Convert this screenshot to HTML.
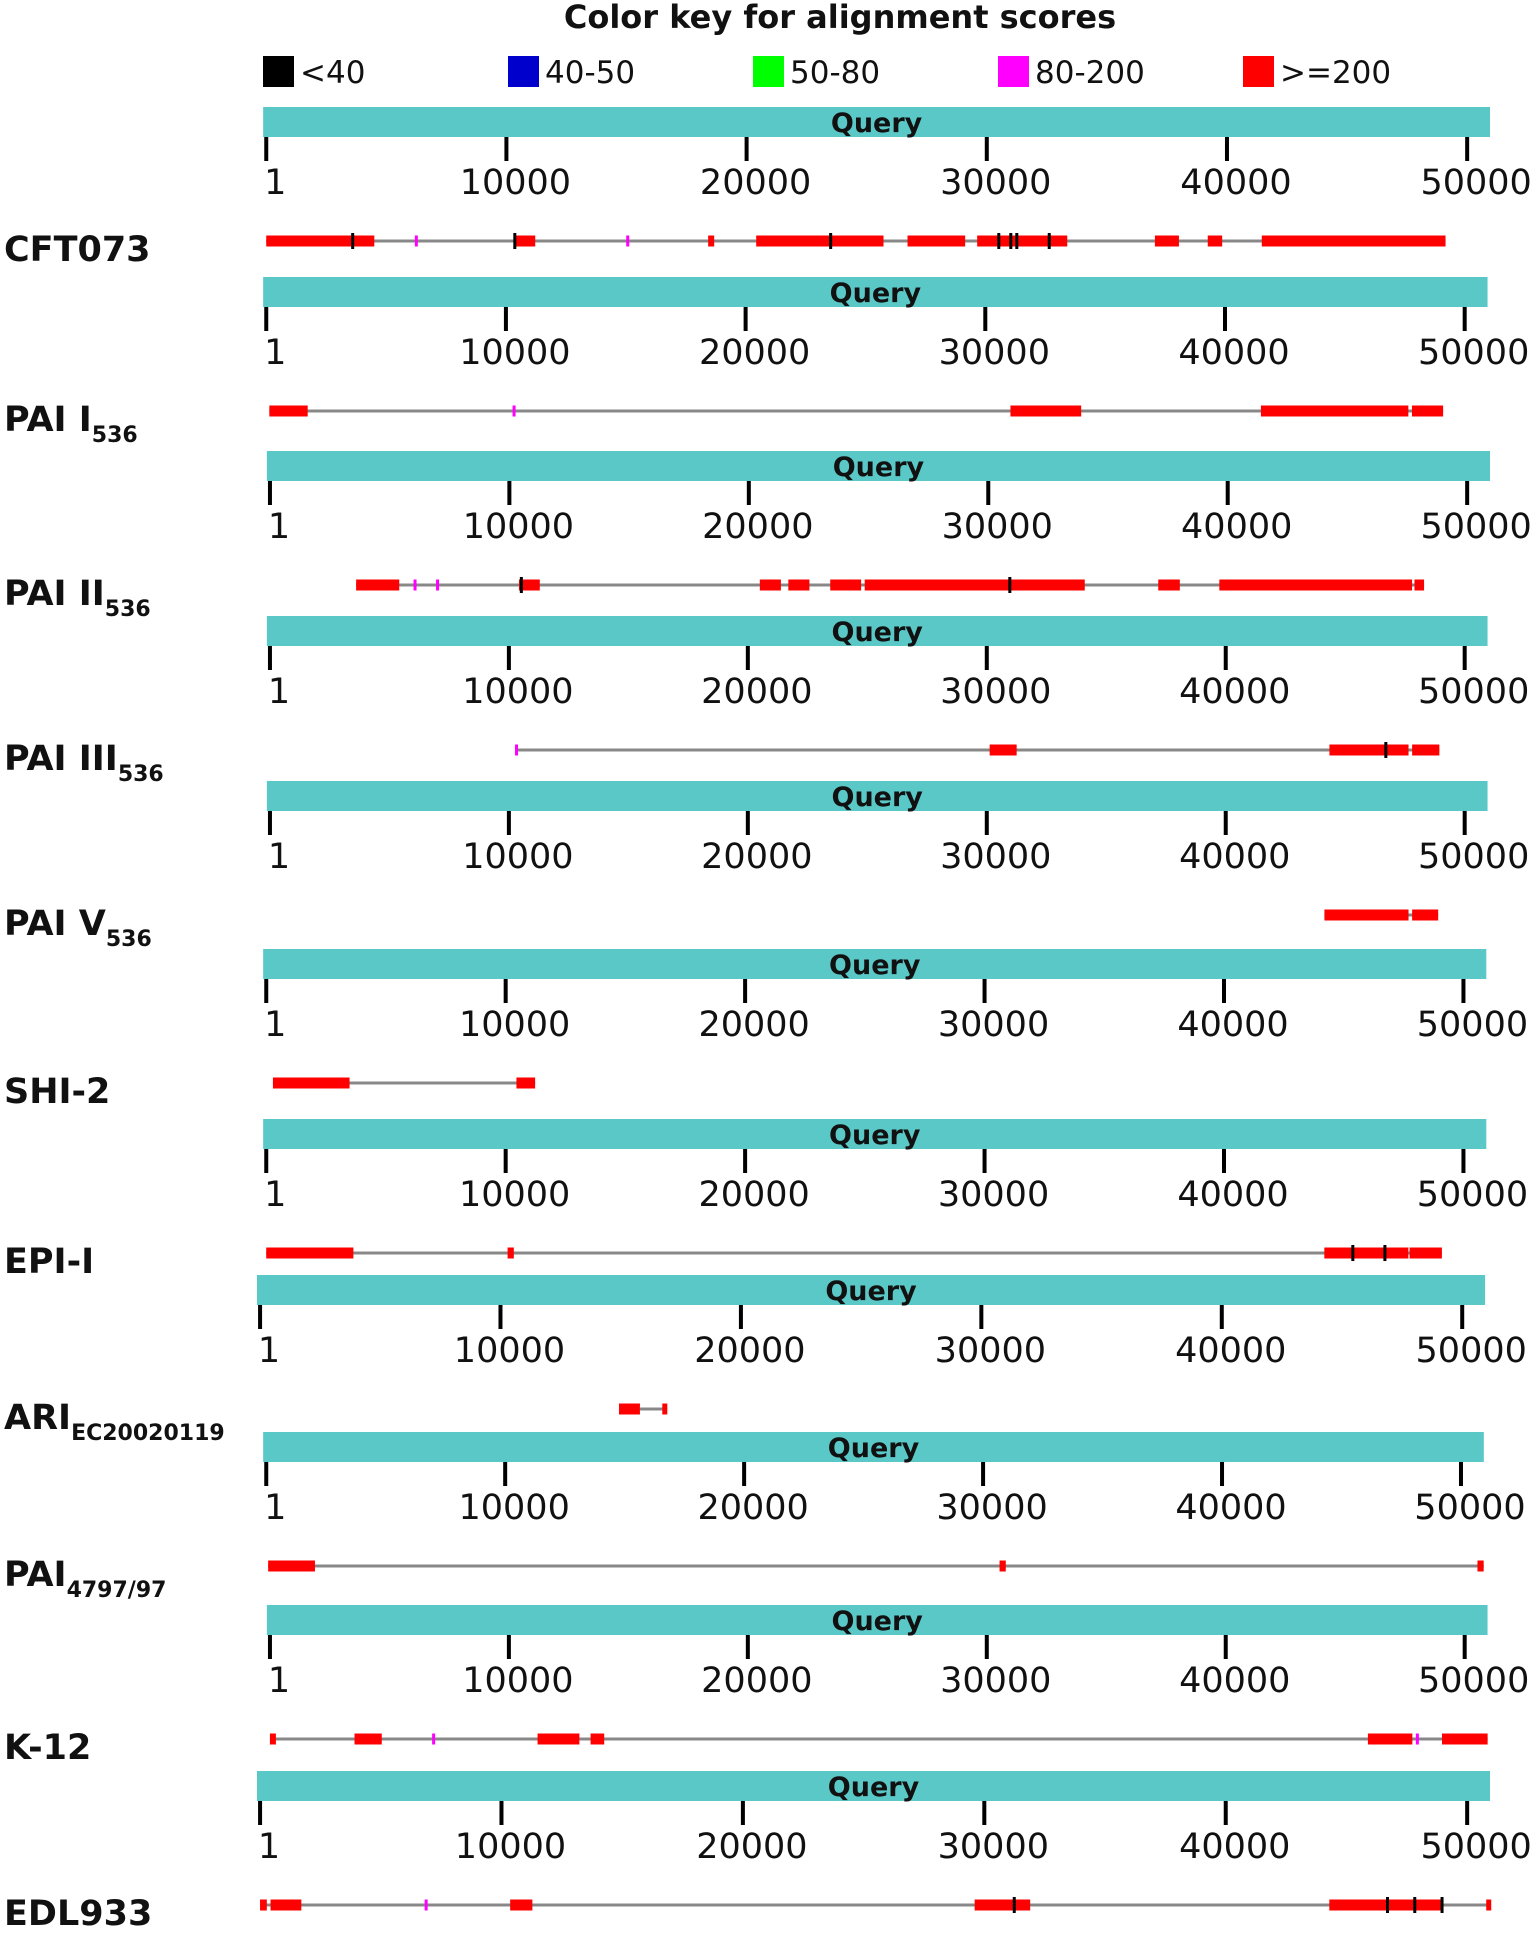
<!DOCTYPE html>
<html><head><meta charset="utf-8">
<style>
html,body{margin:0;padding:0;background:#fff;}
svg{display:block;font-family:"DejaVu Sans","Liberation Sans",sans-serif;}
</style></head>
<body>
<svg id="chart" width="1536" height="1933" viewBox="0 0 1536 1933" xmlns="http://www.w3.org/2000/svg">
<text x="840" y="28" font-size="32" font-weight="bold" text-anchor="middle" fill="#111">Color key for alignment scores</text>
<g id="legend"></g>
<g id="blocks"></g>
</svg>
<script>
const NS = "http://www.w3.org/2000/svg";
const legendLabels = ["<40","40-50","50-80","80-200",">=200"];
const legendColors = ["#000000","#0000cc","#00ff00","#ff00ff","#ff0000"];
const tickValues = [1,10000,20000,30000,40000,50000];
const tickLabels = ["1","10000","20000","30000","40000","50000"];
const subjectNames = ["CFT073","PAI I","PAI II","PAI III","PAI V","SHI-2","EPI-I","ARI","PAI","K-12","EDL933"];
const subjectSubs = ["","536","536","536","536","","","EC20020119","4797/97","",""];
const queryCenters = [122,292,466,631,796,964,1134,1290,1447,1620,1786];
const redCFT073 = [[0,4500],[10400,11200],[18400,18650],[20400,25700],[26700,29100],[29600,33350],[37000,38000],[39200,39800],[41450,49100]];
const redPAI1 = [[130,1730],[31050,34000],[41500,47650],[47800,49100]];
const redPAI2 = [[3600,5400],[10400,11270],[20460,21340],[21650,22530],[23400,24690],[24840,34030],[37100,38000],[39650,47700],[47800,48200]];
const redPAI3 = [[30120,31250],[44340,47650],[47800,48940]];
const redPAI5 = [[44130,47650],[47800,48890]];
const redSHI2 = [[280,3480],[10450,11230]];
const redEPI = [[0,3640],[10080,10340],[44190,47700],[47750,49100]];
const redARI = [[14930,15800],[16730,16930]];
const redPAI4797 = [[80,2040],[30690,30950],[50690,50950]];
const redK12 = [[0,250],[3540,4680],[11200,12950],[13420,13990],[45950,47810],[49050,50960]];
const redEDL = [[0,280],[435,1710],[10360,11280],[29600,31900],[44290,49000],[50790,50940]];
const redSpans = [redCFT073,redPAI1,redPAI2,redPAI3,redPAI5,redSHI2,redEPI,redARI,redPAI4797,redK12,redEDL];
const blackHits = [[3600,10350,23500,30500,31000,31250,32600],[],[10500,30900],[46700],[],[],[45380,46720],[],[],[],[31240,46700,47830,48960]];
const magentaHits = [[6250,15050],[10340],[6060,7000],[10320],[],[],[],[],[],[6850,48020],[6880]];
const lineExtent = [[0,49100],[130,49100],[3600,48200],[10320,48940],[44130,48890],[280,11230],[0,49100],[15800,16930],[80,50950],[0,50960],[0,50940]];
</script>
<script>
const blockLeft = [213,213,216,216,216,213,213,208,213,216,208];
const blockRight = [1206,1204,1206,1204,1204,1203,1203,1202,1201,1204,1206];
const K = 1.2355;
function mk(tag, attrs, parent){ const e=document.createElementNS(NS,tag); for(const k in attrs) e.setAttribute(k,attrs[k]); parent.appendChild(e); return e; }
const legend = document.getElementById('legend');
legendLabels.forEach((lab,i)=>{
  const x = 263 + i*245;
  const r = mk('rect',{x:x,y:56,width:31,height:31,fill:legendColors[i]},legend);
  
  
  const t = mk('text',{x:x+37,y:83,'font-size':31,fill:'#111'},legend);
  
  
  t.textContent = lab;
});
const blocks = document.getElementById('blocks');
subjectNames.forEach((name,b)=>{
  const g = mk('g',{},blocks);
  
  
  const L = blockLeft[b]*K, R = blockRight[b]*K;
  const t1 = L + 2.5*K, t50 = R - 18.5*K;
  const xs = v => t1 + (v-1)/49999*(t50-t1);
  const qc = queryCenters[b];
  const q = mk('rect',{x:L,y:qc-15,width:R-L,height:30,fill:'#5bc8c8'},g);
  
  
  const qt = mk('text',{x:(L+R)/2,y:qc+10,'font-size':27,'font-weight':'bold','text-anchor':'middle',fill:'#111'},g);
  
  
  qt.textContent='Query';
  tickValues.forEach((v,i)=>{
    const x = xs(v);
    const tk = mk('rect',{x:x-2,y:qc+15,width:4,height:24,fill:'#000'},g);
    
    
    const tl = mk('text',{x:x+9,y:qc+72,'font-size':35,'text-anchor':'middle',fill:'#111'},g);
    
    
    tl.textContent = tickLabels[i];
  });
  const ty = qc + 119;
  const ext = lineExtent[b];
  const ln = mk('rect',{x:xs(ext[0]),y:ty-1.5,width:xs(ext[1])-xs(ext[0]),height:3,fill:'#888'},g);
  
  
  redSpans[b].forEach(s=>{
    const r = mk('rect',{x:xs(s[0]),y:ty-5.5,width:Math.max(5,xs(s[1])-xs(s[0])),height:11,fill:'#ff0000'},g);
    
    
  });
  magentaHits[b].forEach(v=>{
    const r = mk('rect',{x:xs(v)-1.5,y:ty-5.5,width:3,height:11,fill:'#ff00ff'},g);
    
    
  });
  blackHits[b].forEach(v=>{
    const r = mk('rect',{x:xs(v)-1.5,y:ty-8,width:3,height:16,fill:'#000'},g);
    
    
  });
  const lab = mk('text',{x:4,y:qc+139,'font-size':35,'font-weight':'bold',fill:'#111',textLength:'',},g);
  lab.removeAttribute('textLength');
  
  
  lab.textContent = name;
  if(subjectSubs[b]){
    const ts = document.createElementNS(NS,'tspan');
    ts.setAttribute('font-size','22');
    ts.setAttribute('dy','11');
    ts.textContent = subjectSubs[b];
    lab.appendChild(ts);
  }
});
</script>
</body></html>
